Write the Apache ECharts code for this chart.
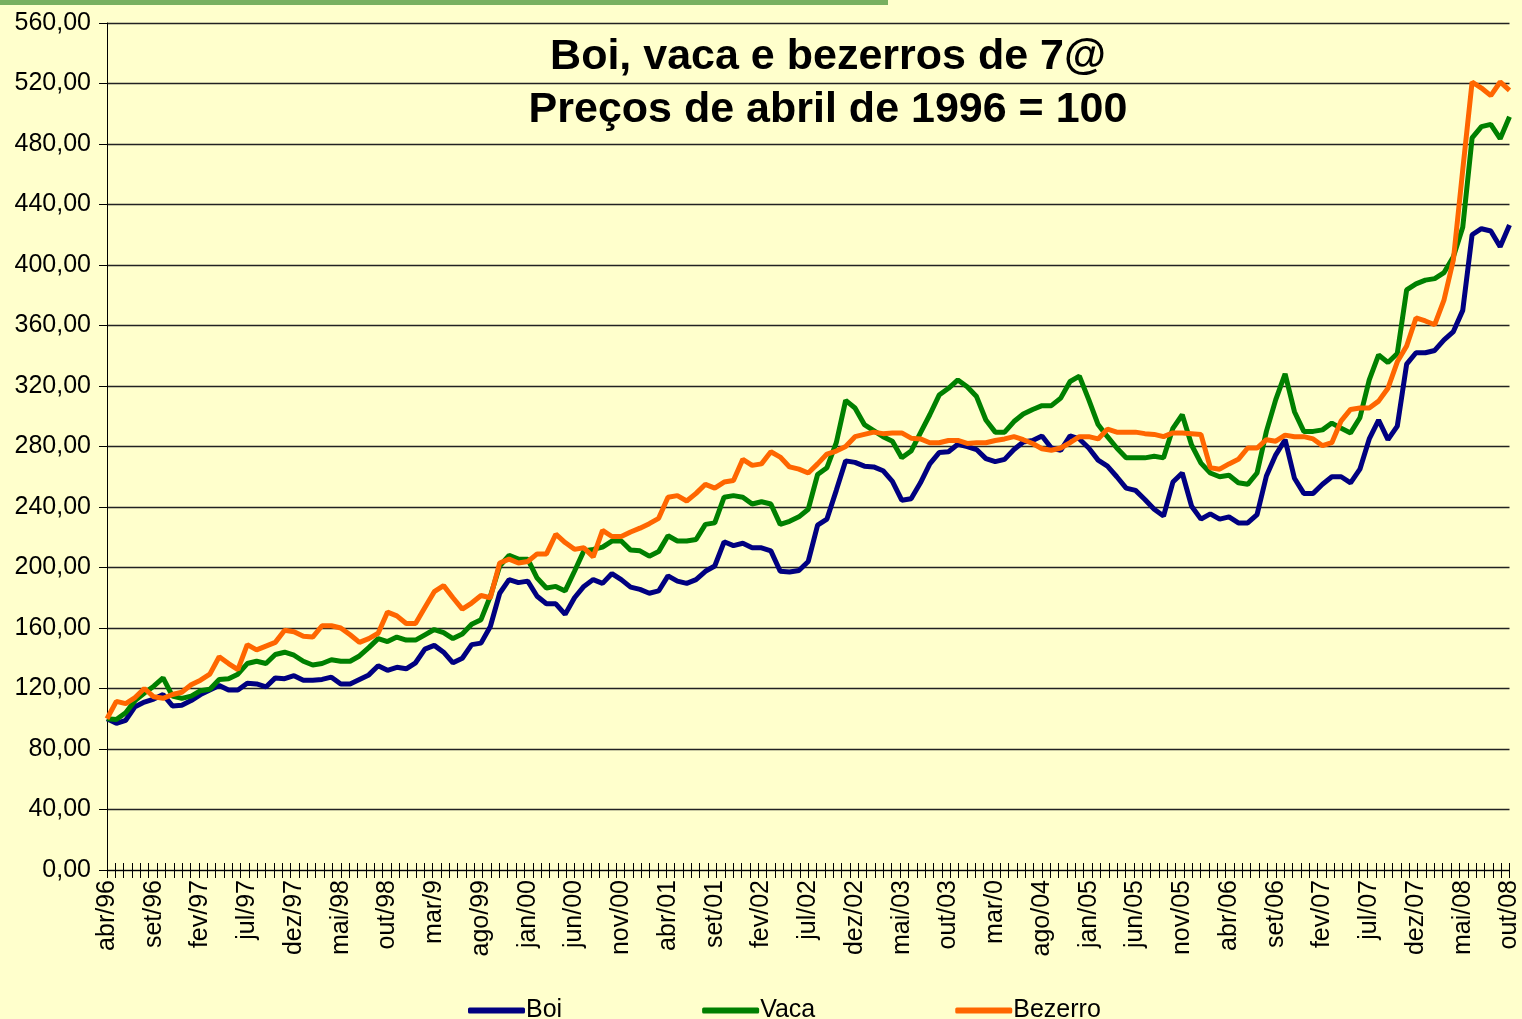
<!DOCTYPE html>
<html>
<head>
<meta charset="utf-8">
<script src="https://cdn.jsdelivr.net/npm/echarts@6/dist/echarts.min.js"></script>
<style>
  html, body { margin: 0; padding: 0; background: #FFFFCC; }
  #chart { width: 1522px; height: 1019px; }
</style>
</head>
<body>
<div id="chart"></div>
<script>
// meses abr/96 .. out/08 (151 pontos)
const monthNames = ['jan', 'fev', 'mar', 'abr', 'mai', 'jun', 'jul', 'ago', 'set', 'out', 'nov', 'dez'];
const startYear = 1996;
const startMonth = 3; // abril
const nMonths = 151;

// rótulos do eixo x, um a cada 5 meses (como aparecem no gráfico)
const tickLabels = [
  'abr/96', 'set/96', 'fev/97', 'jul/97', 'dez/97', 'mai/98', 'out/98', 'mar/9',
  'ago/99', 'jan/00', 'jun/00', 'nov/00', 'abr/01', 'set/01', 'fev/02', 'jul/02',
  'dez/02', 'mai/03', 'out/03', 'mar/0', 'ago/04', 'jan/05', 'jun/05', 'nov/05',
  'abr/06', 'set/06', 'fev/07', 'jul/07', 'dez/07', 'mai/08', 'out/08'
];

const boi = [
  100, 97, 99, 108, 111, 113, 116, 108.5, 109, 112,
  116, 119, 122, 119, 119, 123.5, 123, 121, 127, 126.5,
  128.5, 125.5, 125.5, 126, 127.5, 123, 123, 126, 129, 135,
  132, 134, 133, 137, 146, 148.5, 144, 137, 140, 149,
  150, 161, 183, 192, 190, 191, 181, 176, 176, 169,
  180, 187.5, 192, 189.5, 196, 192, 187, 185.5, 183, 184.5,
  194.5, 191, 189.5, 192, 197.5, 201, 217, 214.5, 216, 213,
  213, 211, 197.5, 197, 198, 204, 228, 232, 251, 270.5,
  269.5, 267, 266.5, 264, 257, 244.5, 245.5, 256, 268.5, 276,
  276.5, 281.5, 280, 278, 272, 270, 271.5, 278, 283, 284,
  287, 279, 277.5, 287, 285, 279, 271, 267, 260, 252.5,
  251, 245, 238.5, 234, 256.5, 262.5, 240.5, 232, 235.5, 232,
  233.5, 229.5, 229.5, 235, 260.5, 274.5, 284.5, 259, 249, 249,
  255, 260, 260, 256, 265, 285, 297.5, 284.5, 293.5, 334.5,
  342, 342, 343.5, 350.5, 356, 370, 420, 424, 422.5, 412,
  426.5
];

const vaca = [
  100, 99.5, 104, 112, 117, 121.5, 127, 115, 113.5, 115,
  118.5, 119.5, 126, 126.5, 129.5, 136.5, 138, 136.5, 142.5, 144,
  142, 138, 135.5, 136.5, 139, 138, 138, 141.5, 147, 153,
  151, 154, 152, 152, 155.5, 159, 157, 153, 156, 162.5,
  165.5, 181, 201, 208, 205.5, 205.5, 193, 186.5, 187.5, 184.5,
  197.5, 211, 212, 213.5, 217.5, 217.5, 211.5, 211, 207.5, 210.5,
  221, 217.5, 217.5, 218.5, 228.5, 229.5, 246.5, 247.5, 246.5, 242,
  243.5, 242, 228.5, 230.5, 233.5, 238.5, 261.5, 266, 282.5, 310.5,
  305.5, 294.5, 290.5, 286.5, 283.5, 272.5, 277, 289, 301, 314,
  318.5, 324, 319.5, 313, 297.5, 289.5, 289.5, 296.5, 301.5, 304.5,
  307, 307, 312, 323, 326.5, 311, 294.5, 286.5, 279, 272.5,
  272.5, 272.5, 273.5, 272.5, 292, 301, 281, 269, 262.5, 260,
  261, 256, 255, 262.5, 290, 311, 328, 303, 290, 290,
  291, 295.5, 292, 289, 299, 324, 340.5, 335.5, 341.5, 383.5,
  387.5, 390, 391, 395, 405.5, 425, 484, 491.5, 493, 483.5,
  498
];

const bezerro = [
  100, 111.5, 110, 114, 120, 114.5, 113.5, 116, 117.5, 122.5,
  125.5, 129.5, 141, 136.5, 132.5, 149, 145.5, 148, 150.5, 158.5,
  157.5, 154.5, 154, 161.5, 161.5, 160, 155.5, 150.5, 153, 156.5,
  170.5, 168, 163, 163, 173.5, 184, 188, 180, 172.5, 176.5,
  181.5, 180, 203, 205.5, 203, 204, 209, 209, 222, 216.5,
  212, 213, 207, 224.5, 220.5, 220.5, 223.5, 226, 229, 232.5,
  246.5, 247.5, 244, 249, 255, 252.5, 256.5, 257.5, 271.5, 267.5,
  268.5, 276.5, 273, 266.5, 265, 262.5, 268.5, 275, 277, 280,
  286.5, 288, 289.5, 288.5, 289, 289, 285.5, 285, 282.5, 282.5,
  284, 284, 282, 282.5, 282.5, 284, 285, 286.5, 284.5, 282,
  278.5, 277.5, 279, 282.5, 286.5, 286.5, 285, 291.5, 289.5, 289.5,
  289.5, 288.5, 288, 286.5, 289, 289, 288.5, 288, 266, 265,
  268.5, 271.5, 279, 279, 284.5, 283.5, 287.5, 286.5, 286.5, 285,
  280.5, 282.5, 297, 304.5, 305.5, 305.5, 310, 318.5, 336, 346.5,
  365, 363, 360.5, 377, 403.5, 463, 521, 517, 512, 521,
  515.5
];

const categories = [];
for (let k = 0; k < nMonths; k++) {
  const m = (startMonth + k) % 12;
  const y = startYear + Math.floor((startMonth + k) / 12);
  categories.push(monthNames[m] + '/' + String(y).slice(2));
}

const font = '"Liberation Sans", Arial, sans-serif';

const chart = echarts.init(document.getElementById('chart'), null, { renderer: 'canvas' });

const option = {
  backgroundColor: '#FFFFCC',
  animation: false,
  title: {
    text: 'Boi, vaca e bezerros de 7@\nPreços de abril de 1996 = 100',
    left: 823,
    top: 26,
    textAlign: 'center',
    textStyle: {
      fontFamily: font,
      fontWeight: 'bold',
      fontSize: 43,
      lineHeight: 53,
      color: '#000'
    }
  },
  // faixa verde no topo
  graphic: [{
    type: 'rect',
    shape: { x: 0, y: 0, width: 888, height: 5 },
    style: { fill: '#78b060' }
  }],
  legend: {
    data: ['Boi', 'Vaca', 'Bezerro'],
    left: 463,
    top: 993,
    icon: 'roundRect',
    itemWidth: 57,
    itemHeight: 6,
    itemGap: 140,
    textStyle: { fontFamily: font, fontSize: 25, color: '#000', padding: [0, 0, 0, -4] }
  },
  grid: {
    left: 107,
    top: 23,
    right: 10,
    bottom: 149
  },
  xAxis: [{
    type: 'category',
    data: categories,
    boundaryGap: false,
    axisLine: { lineStyle: { color: '#000', width: 1 } },
    axisTick: { show: false },
    axisLabel: {
      interval: 4,
      rotate: 90,
      margin: 10,
      fontFamily: font,
      fontSize: 25,
      color: '#000',
      formatter: function (value, idx) {
        return idx % 5 === 0 ? tickLabels[idx / 5] : '';
      }
    },
    splitLine: { show: false }
  }, {
    // marcas de escala finas do eixo x
    type: 'value',
    position: 'bottom',
    min: 0,
    max: 168,
    interval: 1,
    offset: -7,
    axisLine: { show: false },
    axisLabel: { show: false },
    axisTick: { show: true, length: 15, lineStyle: { color: '#000', width: 1 } },
    splitLine: { show: false }
  }],
  yAxis: {
    type: 'value',
    min: 0,
    max: 560,
    interval: 40,
    axisLine: { show: true, lineStyle: { color: '#000', width: 1 } },
    axisTick: { show: true, length: 8, lineStyle: { color: '#000' } },
    axisLabel: {
      margin: 16,
      fontFamily: font,
      fontSize: 25,
      color: '#000',
      formatter: function (v) { return v.toFixed(2).replace('.', ','); }
    },
    splitLine: { show: true, lineStyle: { color: '#222', width: 1.3 } }
  },
  series: [{
    name: 'Boi',
    type: 'line',
    data: boi,
    symbol: 'none',
    lineStyle: { width: 5, color: '#000080' },
    itemStyle: { color: '#000080' }
  }, {
    name: 'Vaca',
    type: 'line',
    data: vaca,
    symbol: 'none',
    lineStyle: { width: 5, color: '#008000' },
    itemStyle: { color: '#008000' }
  }, {
    name: 'Bezerro',
    type: 'line',
    data: bezerro,
    symbol: 'none',
    lineStyle: { width: 5, color: '#FF6600' },
    itemStyle: { color: '#FF6600' }
  }]
};

chart.setOption(option);
</script>
</body>
</html>
